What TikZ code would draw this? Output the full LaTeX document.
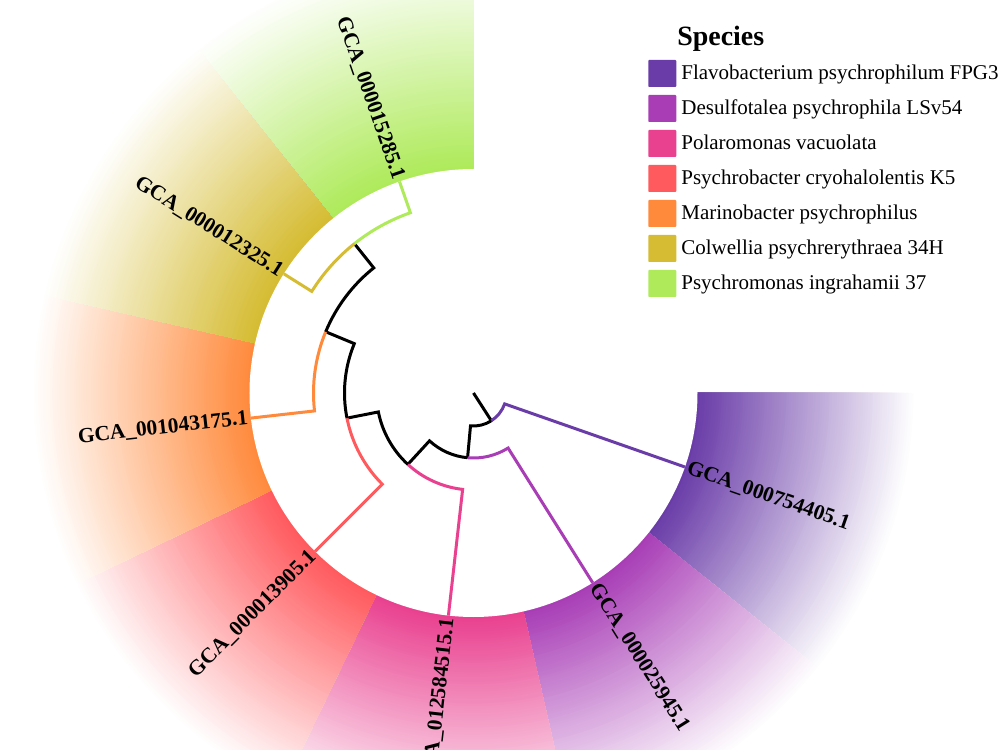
\documentclass[tikz,border=0pt]{standalone}
\usepackage{fontspec}
\setmainfont{Liberation Serif}
\usepackage{xcolor}
\definecolor{flavo}{HTML}{6A3CA8}
\definecolor{desulfo}{HTML}{A83DB6}
\definecolor{polaro}{HTML}{E9408F}
\definecolor{psybac}{HTML}{FF5A5E}
\definecolor{marino}{HTML}{FF8A3C}
\definecolor{colwel}{HTML}{D5BC32}
\definecolor{psymon}{HTML}{AEEA5A}
\usepackage{tikz}
\usetikzlibrary{positioning}

\begin{document}
\begin{tikzpicture}[
  x=0.02cm, y=0.02cm,
  br/.style={line width=1.7pt, color=black},
  lab/.style={font=\fontsize{12.2}{14}\selectfont\bfseries, inner sep=1.5pt},
  key/.style={minimum width=0.56cm, minimum height=0.54cm, inner sep=0pt,
              rounded corners=0.5pt, anchor=west},
  keytext/.style={font=\fontsize{11.95}{14}\selectfont, inner sep=0pt, anchor=base west}
]
  \useasboundingbox (-473.5,-357) rectangle (526.5,393);
  \clip (-473.5,-357) rectangle (526.5,393);

  % fading wedges, one per species
  \foreach \a/\c in {321.43/flavo, 282.86/desulfo, 244.29/polaro, 205.71/psybac,
                     167.14/marino, 128.57/colwel, 90/psymon}{
    \foreach \i [evaluate=\i as \r using 224+2.4*\i,
                 evaluate=\i as \p using int((91-\i)*100/90)] in {90,...,1}
      \fill[\c!\p!white] (0,0) -- (\a:\r)
        arc[start angle=\a, end angle=\a+38.57, radius=\r] -- cycle;
  }
  \fill[white] (0,0) circle[radius=224];

  % tree
  \coordinate (origin) at (0,0);
  \coordinate (root) at (302.74:33);
  \coordinate (nA) at (264.78:65);
  \coordinate (nB) at (227.41:97);
  \coordinate (nC) at (191.25:129);
  \coordinate (nD) at (157.5:160);
  \coordinate (nE) at (128.57:191);
  \coordinate (t1) at (340.71:224);
  \coordinate (t2) at (302.14:224);
  \coordinate (t3) at (263.57:224);
  \coordinate (t4) at (225:224);
  \coordinate (t5) at (186.43:224);
  \coordinate (t6) at (147.86:224);
  \coordinate (t7) at (109.29:224);

  \draw[br] (origin) -- (root);
  \draw[br, flavo] (root) arc[start angle=302.74, end angle=340.71, radius=33] -- (t1);
  \draw[br] (root) arc[start angle=302.74, end angle=264.78, radius=33] -- (nA);
  \draw[br, desulfo] (nA) arc[start angle=264.78, end angle=302.14, radius=65] -- (t2);
  \draw[br] (nA) arc[start angle=264.78, end angle=227.41, radius=65] -- (nB);
  \draw[br, polaro] (nB) arc[start angle=227.41, end angle=263.57, radius=97] -- (t3);
  \draw[br] (nB) arc[start angle=227.41, end angle=191.25, radius=97] -- (nC);
  \draw[br, psybac] (nC) arc[start angle=191.25, end angle=225, radius=129] -- (t4);
  \draw[br] (nC) arc[start angle=191.25, end angle=157.5, radius=129] -- (nD);
  \draw[br, marino] (nD) arc[start angle=157.5, end angle=186.43, radius=160] -- (t5);
  \draw[br] (nD) arc[start angle=157.5, end angle=128.57, radius=160] -- (nE);
  \draw[br, colwel] (nE) arc[start angle=128.57, end angle=147.86, radius=191] -- (t6);
  \draw[br, psymon] (nE) arc[start angle=128.57, end angle=109.29, radius=191] -- (t7);

  % tip labels
  \node[lab, anchor=west, rotate=340.71] (l1) at (t1) {GCA\_000754405.1};
  \node[lab, anchor=west, rotate=302.14] (l2) at (t2) {GCA\_000025945.1};
  \node[lab, anchor=east, rotate=83.57] (l3) at (t3) {GCA\_012584515.1};
  \node[lab, anchor=east, rotate=45] (l4) at (t4) {GCA\_000013905.1};
  \node[lab, anchor=east, rotate=6.43] (l5) at (t5) {GCA\_001043175.1};
  \node[lab, anchor=east, rotate=-32.14] (l6) at (t6) {GCA\_000012325.1};
  \node[lab, anchor=east, rotate=-70.71] (l7) at (t7) {GCA\_000015285.1};

  % legend
  \node[font=\fontsize{15.9}{18}\selectfont\bfseries, inner sep=0pt, anchor=base west]
    (title) at (203.5,347) {Species};
  \node[key, fill=flavo]   (k1) at (174.5,319.5) {};
  \node[key, fill=desulfo] (k2) at (174.5,284.5) {};
  \node[key, fill=polaro]  (k3) at (174.5,249.5) {};
  \node[key, fill=psybac]  (k4) at (174.5,214.5) {};
  \node[key, fill=marino]  (k5) at (174.5,179.5) {};
  \node[key, fill=colwel]  (k6) at (174.5,144.5) {};
  \node[key, fill=psymon]  (k7) at (174.5,109.5) {};
  \node[keytext] (s1) at (207.5,313) {Flavobacterium psychrophilum FPG3};
  \node[keytext] (s2) at (207.5,278) {Desulfotalea psychrophila LSv54};
  \node[keytext] (s3) at (207.5,243) {Polaromonas vacuolata};
  \node[keytext] (s4) at (207.5,208) {Psychrobacter cryohalolentis K5};
  \node[keytext] (s5) at (207.5,173) {Marinobacter psychrophilus};
  \node[keytext] (s6) at (207.5,138) {Colwellia psychrerythraea 34H};
  \node[keytext] (s7) at (207.5,103) {Psychromonas ingrahamii 37};
\end{tikzpicture}
\end{document}
